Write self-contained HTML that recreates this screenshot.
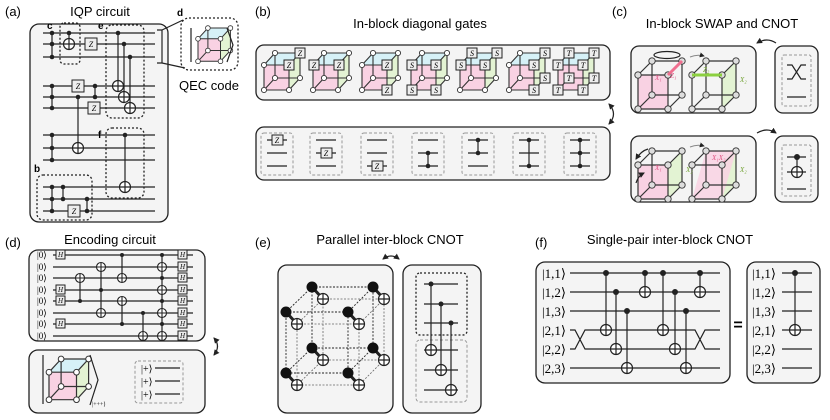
<!DOCTYPE html>
<html><head><meta charset="utf-8"><style>
body{margin:0;background:#fff}
svg{display:block;font-family:"Liberation Sans",sans-serif}
.w{stroke:#222;stroke-width:1.2;fill:none}
.bx{fill:#f4f4f4;stroke:#222;stroke-width:1.3}
.dsh{fill:none;stroke:#222;stroke-width:1.3;stroke-dasharray:2,2}
.gd{fill:none;stroke:#999;stroke-width:1;stroke-dasharray:3,2}
.t{font-size:13px}
.k{font-family:"Liberation Serif",serif}
.g{fill:#eee;stroke:#222;stroke-width:1}
.gt{font-family:"Liberation Serif",serif;font-style:italic;font-size:8px;text-anchor:middle}
</style></head><body>
<svg width="830" height="420" viewBox="0 0 830 420">
<defs>
<marker id="ah" viewBox="0 0 6 6" refX="5" refY="3" markerWidth="5" markerHeight="5" orient="auto"><path d="M0 0L6 3L0 6Z" fill="#222"/></marker>
<marker id="ahs" viewBox="0 0 6 6" refX="1" refY="3" markerWidth="5" markerHeight="5" orient="auto"><path d="M6 0L0 3L6 6Z" fill="#222"/></marker>
<g id="ox"><circle r="5.5" fill="#fff" stroke="#222" stroke-width="1.2"/><path d="M-5.5 0H5.5M0 -5.5V5.5" stroke="#222" stroke-width="1.2"/></g>
<g id="ox2"><circle r="4.5" fill="#fff" stroke="#222" stroke-width="1.1"/><path d="M-4.5 0H4.5M0 -4.5V4.5" stroke="#222" stroke-width="1.1"/></g>
<g id="cube">
<polygon points="0,12 25,12 25,37 0,37" fill="#f9d2e3"/>
<polygon points="0,12 11,0 36,0 25,12" fill="#d6f1f7"/>
<polygon points="25,12 36,0 36,25 25,37" fill="#e3f3d3"/>
<path d="M11 0H36V25M11 0V25H36M11 25L0 37M0 12H25V37H0ZM0 12L11 0M25 12L36 0M25 37L36 25" stroke="#333" stroke-width="1.1" fill="none"/>
<g fill="#fff" stroke="#333" stroke-width="0.9"><circle cx="0" cy="12" r="2.6"/><circle cx="25" cy="12" r="2.6"/><circle cx="0" cy="37" r="2.6"/><circle cx="25" cy="37" r="2.6"/><circle cx="11" cy="0" r="2.6"/><circle cx="36" cy="0" r="2.6"/><circle cx="11" cy="25" r="2.6"/><circle cx="36" cy="25" r="2.6"/></g>
</g>
<g id="wc">
<path d="M14 0H44V34M14 0V34H44M14 34L0 48M0 14H30V48H0ZM0 14L14 0M30 14L44 0M30 48L44 34" stroke="#333" stroke-width="1.2" fill="none"/>
<g fill="#ddd" stroke="#333" stroke-width="0.9"><circle cx="0" cy="14" r="3.2"/><circle cx="30" cy="14" r="3.2"/><circle cx="0" cy="48" r="3.2"/><circle cx="30" cy="48" r="3.2"/><circle cx="14" cy="0" r="3.2"/><circle cx="44" cy="0" r="3.2"/><circle cx="14" cy="34" r="3.2"/><circle cx="44" cy="34" r="3.2"/></g>
</g>
</defs>

<!-- (a) -->
<text x="5" y="16" class="t">(a)</text>
<text x="100" y="16" class="t" text-anchor="middle">IQP circuit</text>
<rect x="30" y="24" width="138" height="198" rx="9" class="bx"/>
<g class="w">
<path d="M43 33H155M43 44H155M43 57H155M43 86H155M43 97H155M43 108H155M43 135H155M43 148H155M43 160H155M43 187H155M43 199H155M43 211H155"/>
<path d="M52 33V57M69 33V44M118 33V86M124 44V97M130 57V108M52 86V108M78 97V148M95 86V97M52 135V160M125 135V187M52 187V211M63 187V199M87 199V211"/>
<path d="M157 30H162V63H157M162 30L183 20M162 63L185 68"/>
</g>
<g class="dsh"><rect x="60" y="23" width="20" height="41" rx="4"/><rect x="106" y="25" width="38" height="93" rx="6"/><rect x="106" y="128" width="38" height="70" rx="6"/><rect x="37" y="175" width="55" height="45" rx="6"/><rect x="181" y="18" width="57" height="52" rx="8"/></g>
<g fill="#222"><circle cx="52" cy="33" r="2.3"/><circle cx="52" cy="44" r="2.3"/><circle cx="52" cy="57" r="2.3"/><circle cx="69" cy="33" r="2.3"/><circle cx="118" cy="33" r="2.3"/><circle cx="124" cy="44" r="2.3"/><circle cx="130" cy="57" r="2.3"/><circle cx="52" cy="86" r="2.3"/><circle cx="52" cy="97" r="2.3"/><circle cx="52" cy="108" r="2.3"/><circle cx="78" cy="97" r="2.3"/><circle cx="95" cy="86" r="2.3"/><circle cx="95" cy="97" r="2.3"/><circle cx="52" cy="135" r="2.3"/><circle cx="52" cy="148" r="2.3"/><circle cx="52" cy="160" r="2.3"/><circle cx="125" cy="135" r="2.3"/><circle cx="52" cy="187" r="2.3"/><circle cx="52" cy="199" r="2.3"/><circle cx="52" cy="211" r="2.3"/><circle cx="63" cy="187" r="2.3"/><circle cx="63" cy="199" r="2.3"/><circle cx="87" cy="199" r="2.3"/><circle cx="87" cy="211" r="2.3"/></g>
<use href="#ox" x="69" y="44"/><use href="#ox" x="118" y="86"/><use href="#ox" x="124" y="97"/><use href="#ox" x="130" y="108"/><use href="#ox" x="78" y="148"/><use href="#ox" x="125" y="187"/>
<g><rect x="85" y="38" width="12" height="12" class="g"/><text x="91" y="47" class="gt">Z</text>
<rect x="72" y="80" width="12" height="12" class="g"/><text x="78" y="89" class="gt">Z</text>
<rect x="88" y="102" width="12" height="12" class="g"/><text x="94" y="111" class="gt">Z</text>
<rect x="68" y="205" width="12" height="12" class="g"/><text x="74" y="214" class="gt">Z</text></g>
<g font-weight="bold" font-size="10"><text x="47" y="29">c</text><text x="98" y="29">e</text><text x="98" y="138">f</text><text x="34" y="172">b</text><text x="177" y="16">d</text></g>
<use href="#cube" transform="translate(198 28) scale(0.9)"/>
<path d="M191 28V62M227 28L233 45L227 62" class="w"/>
<text x="209" y="90" class="t" text-anchor="middle">QEC code</text>

<!-- (b) -->
<text x="255" y="16" class="t">(b)</text>
<text x="420" y="28" class="t" text-anchor="middle">In-block diagonal gates</text>
<rect x="256" y="45" width="354" height="55" rx="8" class="bx"/>
<use href="#cube" x="264" y="53"/><use href="#cube" x="313" y="53"/><use href="#cube" x="362" y="53"/><use href="#cube" x="411" y="53"/><use href="#cube" x="460" y="53"/><use href="#cube" x="509" y="53"/><use href="#cube" x="558" y="53"/>
<g>
<rect x="295" y="48" width="10" height="10" class="g"/><text x="300" y="56" class="gt">Z</text>
<rect x="284" y="60" width="10" height="10" class="g"/><text x="289" y="68" class="gt">Z</text>
<rect x="309" y="60" width="10" height="10" class="g"/><text x="314" y="68" class="gt">Z</text>
<rect x="334" y="60" width="10" height="10" class="g"/><text x="339" y="68" class="gt">Z</text>
<rect x="382" y="60" width="10" height="10" class="g"/><text x="387" y="68" class="gt">Z</text>
<rect x="382" y="85" width="10" height="10" class="g"/><text x="387" y="93" class="gt">Z</text>
<rect x="407" y="60" width="10" height="10" class="g"/><text x="412" y="68" class="gt">S</text>
<rect x="431" y="60" width="10" height="10" class="g"/><text x="436" y="68" class="gt">S</text>
<rect x="407" y="85" width="10" height="10" class="g"/><text x="412" y="93" class="gt">S</text>
<rect x="431" y="85" width="10" height="10" class="g"/><text x="436" y="93" class="gt">S</text>
<rect x="467" y="48" width="10" height="10" class="g"/><text x="472" y="56" class="gt">S</text>
<rect x="492" y="48" width="10" height="10" class="g"/><text x="497" y="56" class="gt">S</text>
<rect x="456" y="60" width="10" height="10" class="g"/><text x="461" y="68" class="gt">S</text>
<rect x="480" y="60" width="10" height="10" class="g"/><text x="485" y="68" class="gt">S</text>
<rect x="540" y="48" width="10" height="10" class="g"/><text x="545" y="56" class="gt">S</text>
<rect x="529" y="60" width="10" height="10" class="g"/><text x="534" y="68" class="gt">S</text>
<rect x="540" y="73" width="10" height="10" class="g"/><text x="545" y="81" class="gt">S</text>
<rect x="529" y="85" width="10" height="10" class="g"/><text x="534" y="93" class="gt">S</text>
<rect x="564" y="48" width="10" height="10" class="g"/><text x="569" y="56" class="gt">T</text>
<rect x="589" y="48" width="10" height="10" class="g"/><text x="594" y="56" class="gt">T</text>
<rect x="553" y="60" width="10" height="10" class="g"/><text x="558" y="68" class="gt">T</text>
<rect x="578" y="60" width="10" height="10" class="g"/><text x="583" y="68" class="gt">T</text>
<rect x="564" y="73" width="10" height="10" class="g"/><text x="569" y="81" class="gt">T</text>
<rect x="589" y="73" width="10" height="10" class="g"/><text x="594" y="81" class="gt">T</text>
<rect x="553" y="85" width="10" height="10" class="g"/><text x="558" y="93" class="gt">T</text>
<rect x="578" y="85" width="10" height="10" class="g"/><text x="583" y="93" class="gt">T</text>
</g>
<path d="M609 104Q618 114 609 124" class="w" marker-start="url(#ahs)" marker-end="url(#ah)"/>
<rect x="256" y="127" width="354" height="53" rx="8" class="bx"/>
<g class="gd"><rect x="261" y="133" width="32" height="42" rx="3"/><rect x="310" y="133" width="32" height="42" rx="3"/><rect x="361" y="133" width="32" height="42" rx="3"/><rect x="412" y="133" width="32" height="42" rx="3"/><rect x="462" y="133" width="32" height="42" rx="3"/><rect x="513" y="133" width="32" height="42" rx="3"/><rect x="564" y="133" width="32" height="42" rx="3"/></g>
<g class="w">
<path d="M267 140H287M267 153H287M267 166H287M316 140H336M316 153H336M316 166H336M367 140H387M367 153H387M367 166H387M418 140H438M418 153H438M418 166H438M468 140H488M468 153H488M468 166H488M519 140H539M519 153H539M519 166H539M570 140H590M570 153H590M570 166H590"/>
<path d="M428 153V166M478 140V153M529 140V166M580 140V166"/></g>
<g fill="#222"><circle cx="428" cy="153" r="2.3"/><circle cx="428" cy="166" r="2.3"/><circle cx="478" cy="140" r="2.3"/><circle cx="478" cy="153" r="2.3"/><circle cx="529" cy="140" r="2.3"/><circle cx="529" cy="166" r="2.3"/><circle cx="580" cy="140" r="2.3"/><circle cx="580" cy="153" r="2.3"/><circle cx="580" cy="166" r="2.3"/></g>
<rect x="272" y="135" width="11" height="10" class="g"/><text x="277" y="143" class="gt">Z</text>
<rect x="321" y="148" width="11" height="10" class="g"/><text x="326" y="156" class="gt">Z</text>
<rect x="372" y="161" width="11" height="10" class="g"/><text x="377" y="169" class="gt">Z</text>

<!-- (c) -->
<text x="612" y="16" class="t">(c)</text>
<text x="722" y="28" class="t" text-anchor="middle">In-block SWAP and CNOT</text>
<rect x="631" y="46" width="125" height="67" rx="8" class="bx"/>
<rect x="775" y="46" width="43" height="67" rx="8" class="bx"/>
<rect x="631" y="136" width="125" height="66" rx="8" class="bx"/>
<rect x="775" y="136" width="43" height="66" rx="8" class="bx"/>
<polygon points="638,75 668,75 668,109 638,109" fill="#f9d2e3"/>
<polygon points="722,75 736,61 736,95 722,109" fill="#e3f3d3"/>
<polygon points="638,165 668,165 668,199 638,199" fill="#f9d2e3"/>
<polygon points="668,165 682,151 682,185 668,199" fill="#e3f3d3"/>
<polygon points="722,165 736,151 736,185 722,199" fill="#e3f3d3"/>
<polygon points="706,151 736,151 722,199 692,199" fill="#f9d2e3" opacity="0.85"/>
<use href="#wc" x="638" y="61"/><use href="#wc" x="692" y="61"/>
<use href="#wc" x="638" y="151"/><use href="#wc" x="692" y="151"/>
<path d="M668 75L682 61" stroke="#f07090" stroke-width="3"/>
<path d="M692 75H722" stroke="#8cd040" stroke-width="3"/>
<g font-family="Liberation Serif,serif" font-style="italic" font-size="7"><text x="655" y="80" fill="#e05080">X₁</text><text x="670" y="78" fill="#e05080">Z₁</text><text x="703" y="72" fill="#70a030">Z₂</text><text x="740" y="82" fill="#70a030">X₂</text><text x="655" y="170" fill="#e05080">X₁</text><text x="686" y="172" fill="#70a030">X₂</text><text x="712" y="160" fill="#e05080">X₁X₂</text><text x="740" y="172" fill="#70a030">X₂</text></g>
<ellipse cx="667" cy="55" rx="13" ry="3.5" class="w"/>
<path d="M690 57Q697 54 704 56" stroke="#888" fill="none" marker-end="url(#ah)"/>
<path d="M690 147Q697 144 704 146" stroke="#888" fill="none" marker-end="url(#ah)"/>
<path d="M636 159Q641 151 648 149M636 183Q638 176 644 173" class="w" stroke-width="1" marker-start="url(#ahs)" marker-end="url(#ah)"/>
<path d="M757 43Q767 37 776 43M757 133Q767 127 776 133" class="w" marker-start="url(#ahs)" marker-end="url(#ah)"/>
<g class="gd"><rect x="782" y="55" width="29" height="51" rx="2"/><rect x="782" y="145" width="29" height="51" rx="2"/></g>
<path d="M787 65H792L801 79H806M787 79H792L801 65H806M787 97H806M787 157H806M787 172H806M787 189H806M797 157V172" class="w"/>
<circle cx="797" cy="157" r="3" fill="#222"/><use href="#ox" x="797" y="172"/>

<!-- (d) -->
<text x="5" y="247" class="t">(d)</text>
<text x="110" y="244" class="t" text-anchor="middle">Encoding circuit</text>
<rect x="29" y="250" width="176" height="91" rx="9" class="bx"/>
<g class="k" style="font-size:9px"><text x="37" y="258">|0⟩</text><text x="37" y="270">|0⟩</text><text x="37" y="281">|0⟩</text><text x="37" y="293">|0⟩</text><text x="37" y="304">|0⟩</text><text x="37" y="316">|0⟩</text><text x="37" y="327">|0⟩</text><text x="37" y="339">|0⟩</text></g>
<g class="w" stroke-width="1"><path d="M53 255H193M53 267H193M53 278H193M53 290H193M53 301H193M53 313H193M53 324H193M53 336H193"/>
<path d="M80 278V301M101 267V313M122 255V278M122 301V324M143 313V336M162 255V336"/></g>
<g fill="#222"><circle cx="80" cy="301" r="2"/><circle cx="101" cy="290" r="2"/><circle cx="122" cy="255" r="2"/><circle cx="122" cy="324" r="2"/><circle cx="143" cy="313" r="2"/><circle cx="162" cy="255" r="2"/><circle cx="162" cy="278" r="2"/><circle cx="162" cy="301" r="2"/><circle cx="162" cy="324" r="2"/></g>
<use href="#ox2" x="80" y="278"/><use href="#ox2" x="101" y="267"/><use href="#ox2" x="101" y="313"/><use href="#ox2" x="122" y="278"/><use href="#ox2" x="122" y="301"/><use href="#ox2" x="143" y="336"/><use href="#ox2" x="162" y="267"/><use href="#ox2" x="162" y="290"/><use href="#ox2" x="162" y="313"/><use href="#ox2" x="162" y="336"/>
<g><rect x="56" y="250" width="9" height="9" class="g"/><rect x="56" y="285" width="9" height="9" class="g"/><rect x="56" y="296" width="9" height="9" class="g"/><rect x="56" y="319" width="9" height="9" class="g"/>
<rect x="178" y="250" width="9" height="9" class="g"/><rect x="178" y="262" width="9" height="9" class="g"/><rect x="178" y="273" width="9" height="9" class="g"/><rect x="178" y="285" width="9" height="9" class="g"/><rect x="178" y="296" width="9" height="9" class="g"/><rect x="178" y="308" width="9" height="9" class="g"/><rect x="178" y="319" width="9" height="9" class="g"/><rect x="178" y="331" width="9" height="9" class="g"/></g>
<g class="gt" style="font-size:7px"><text x="60.5" y="257">H</text><text x="60.5" y="292">H</text><text x="60.5" y="303">H</text><text x="60.5" y="326">H</text><text x="182.5" y="257">H</text><text x="182.5" y="269">H</text><text x="182.5" y="280">H</text><text x="182.5" y="292">H</text><text x="182.5" y="303">H</text><text x="182.5" y="315">H</text><text x="182.5" y="326">H</text><text x="182.5" y="338">H</text></g>
<rect x="29" y="350" width="176" height="63" rx="9" class="bx"/>
<use href="#cube" transform="translate(49 359) scale(1.1)"/>
<path d="M43 355V404M90 355L98 380L90 405" class="w"/>
<text x="92" y="406" class="k" style="font-size:6px">|+++⟩</text>
<rect x="135" y="361" width="48" height="42" rx="3" class="gd"/>
<g class="k" style="font-size:10px"><text x="141" y="372">|+⟩</text><text x="141" y="385">|+⟩</text><text x="141" y="398">|+⟩</text></g>
<path d="M155 368H180M155 381H180M155 394H180" class="w" stroke-width="1"/>
<path d="M214 338Q221 346 214 355" class="w" marker-start="url(#ahs)" marker-end="url(#ah)"/>

<!-- (e) -->
<text x="255" y="247" class="t">(e)</text>
<text x="390" y="244" class="t" text-anchor="middle">Parallel inter-block CNOT</text>
<path d="M383 259Q391 253 399 259" class="w" marker-start="url(#ahs)" marker-end="url(#ah)"/>
<rect x="278" y="265" width="115" height="148" rx="9" class="bx"/>
<rect x="403" y="265" width="78" height="148" rx="9" class="bx"/>
<g stroke="#222" stroke-width="0.9" stroke-dasharray="2,1.5" fill="none">
<path d="M312 287H373V348H312ZM286 312H348V373H286ZM312 287L286 312M373 287L348 312M312 348L286 373M373 348L348 373"/></g>
<g stroke="#666" stroke-width="0.8" stroke-dasharray="2,1.5" fill="none">
<path d="M323 299H384V360H323ZM297 324H359V385H297ZM323 299L297 324M384 299L359 324M323 360L297 385M384 360L359 385"/></g>
<g stroke="#222" stroke-width="3"><path d="M312 287l11 12M373 287l11 12M286 312l11 12M348 312l11 12M312 348l11 12M373 348l11 12M286 373l11 12M348 373l11 12"/></g>
<g fill="#111"><circle cx="312" cy="287" r="5.5"/><circle cx="373" cy="287" r="5.5"/><circle cx="286" cy="312" r="5.5"/><circle cx="348" cy="312" r="5.5"/><circle cx="312" cy="348" r="5.5"/><circle cx="373" cy="348" r="5.5"/><circle cx="286" cy="373" r="5.5"/><circle cx="348" cy="373" r="5.5"/></g>
<use href="#ox" x="323" y="299"/><use href="#ox" x="384" y="299"/><use href="#ox" x="297" y="324"/><use href="#ox" x="359" y="324"/><use href="#ox" x="323" y="360"/><use href="#ox" x="384" y="360"/><use href="#ox" x="297" y="385"/><use href="#ox" x="359" y="385"/>
<rect x="416" y="273" width="51" height="62" rx="4" class="dsh" stroke-dasharray="3,2"/>
<rect x="416" y="340" width="51" height="62" rx="4" class="gd"/>
<path d="M424 284H458M424 304H458M424 323H458M424 350H458M424 370H458M424 390H458M431 284V350M441 304V370M451 323V390" class="w"/>
<g fill="#222"><circle cx="431" cy="284" r="2.5"/><circle cx="441" cy="304" r="2.5"/><circle cx="451" cy="323" r="2.5"/></g>
<use href="#ox" x="431" y="350"/><use href="#ox" x="441" y="370"/><use href="#ox" x="451" y="390"/>

<!-- (f) -->
<text x="535" y="247" class="t">(f)</text>
<text x="670" y="244" class="t" text-anchor="middle">Single-pair inter-block CNOT</text>
<rect x="536" y="262" width="194" height="121" rx="9" class="bx"/>
<rect x="747" y="262" width="73" height="121" rx="9" class="bx"/>
<g class="k" style="font-size:13px"><text x="542" y="278">|1,1⟩</text><text x="542" y="297">|1,2⟩</text><text x="542" y="316">|1,3⟩</text><text x="542" y="335">|2,1⟩</text><text x="542" y="354">|2,2⟩</text><text x="542" y="373">|2,3⟩</text>
<text x="752" y="278">|1,1⟩</text><text x="752" y="297">|1,2⟩</text><text x="752" y="316">|1,3⟩</text><text x="752" y="335">|2,1⟩</text><text x="752" y="354">|2,2⟩</text><text x="752" y="373">|2,3⟩</text></g>
<g class="w">
<path d="M570 273H720M570 292H720M570 311H720M570 368H720M570 330H575L585 349H695L705 330H720M570 349H575L585 330H695L705 349H720"/>
<path d="M606 273V330M616 292V349M627 311V368M645 273V292M663 273V330M675 292V349M686 311V368M700 273V292"/>
<path d="M782 273H812M782 292H812M782 311H812M782 330H812M782 349H812M782 368H812M795 273V330"/></g>
<g fill="#222"><circle cx="606" cy="273" r="3"/><circle cx="616" cy="292" r="3"/><circle cx="627" cy="311" r="3"/><circle cx="645" cy="273" r="3"/><circle cx="663" cy="273" r="3"/><circle cx="675" cy="292" r="3"/><circle cx="686" cy="311" r="3"/><circle cx="700" cy="273" r="3"/><circle cx="795" cy="273" r="3"/></g>
<use href="#ox" x="606" y="330"/><use href="#ox" x="616" y="349"/><use href="#ox" x="627" y="368"/><use href="#ox" x="645" y="292"/><use href="#ox" x="663" y="330"/><use href="#ox" x="675" y="349"/><use href="#ox" x="686" y="368"/><use href="#ox" x="700" y="292"/><use href="#ox" x="795" y="330"/>
<text x="738" y="330" font-size="16" font-weight="bold" text-anchor="middle">=</text>
</svg>
</body></html>
